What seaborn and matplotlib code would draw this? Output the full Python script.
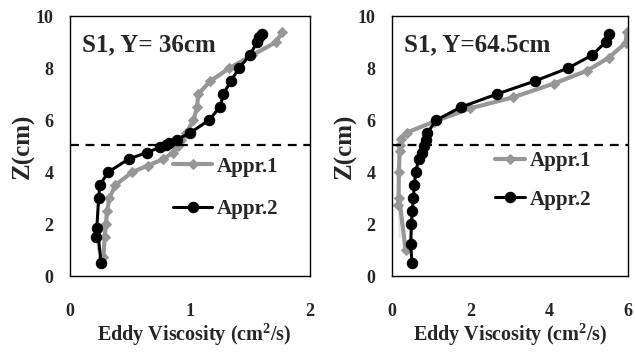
import matplotlib
matplotlib.use('Agg')
import matplotlib.pyplot as plt
import seaborn as sns

# left panel: S1, Y = 36cm
left_z1 = [0.5, 1.0, 1.5, 2.0, 2.5, 3.0, 3.5, 4.0, 4.25, 4.5, 4.75, 5.0, 5.25, 5.5,
           6.0, 6.5, 7.0, 7.5, 8.0, 8.5, 9.0, 9.4]
left_v1 = [0.28, 0.28, 0.29, 0.30, 0.31, 0.33, 0.38, 0.52, 0.65, 0.78, 0.86, 0.90, 0.93, 0.97,
           1.03, 1.06, 1.07, 1.17, 1.33, 1.52, 1.72, 1.77]
left_z2 = [0.5, 1.0, 1.5, 2.0, 2.5, 3.0, 3.5, 4.0, 4.5, 4.75, 4.95, 5.05, 5.1, 5.25, 5.5,
           6.0, 6.5, 7.0, 7.5, 8.0, 8.5, 9.0, 9.2, 9.3]
left_v2 = [0.26, 0.23, 0.22, 0.23, 0.23, 0.24, 0.25, 0.32, 0.49, 0.64, 0.75, 0.80, 0.83, 0.89, 1.00,
           1.16, 1.25, 1.28, 1.34, 1.41, 1.50, 1.56, 1.58, 1.60]

# right panel: S1, Y = 64.5cm
right_z1 = [1.0, 1.5, 2.0, 2.5, 3.0, 3.5, 4.0, 4.5, 4.8, 5.05, 5.27, 5.52,
            5.93, 6.45, 6.88, 7.4, 7.9, 8.4, 8.97, 9.39]
right_v1 = [0.35, 0.19, 0.17, 0.17, 0.17, 0.17, 0.18, 0.19, 0.20, 0.21, 0.23, 0.38,
            1.06, 1.99, 3.09, 4.11, 4.96, 5.51, 5.94, 5.97]
right_z2 = [0.5, 1.0, 1.5, 2.0, 2.5, 3.0, 3.5, 4.0, 4.5, 4.75, 5.0, 5.25, 5.5,
            6.0, 6.5, 7.0, 7.5, 8.0, 8.5, 9.0, 9.3]
right_v2 = [0.51, 0.48, 0.48, 0.50, 0.52, 0.55, 0.57, 0.61, 0.68, 0.77, 0.83, 0.86, 0.90,
            1.13, 1.76, 2.67, 3.63, 4.48, 5.09, 5.43, 5.51]

interface_z = 5.05
titles = ['S1, Y= 36cm', 'S1, Y=64.5cm']
x_limits = [(0, 2), (0, 6)]
x_ticks = [[0, 1, 2], [0, 2, 4, 6]]
y_ticks = [0, 2, 4, 6, 8, 10]
xlabel_pos = [0.52, 0.5]

sns.set_style('white')
plt.rcParams['font.family'] = ['Liberation Serif', 'DejaVu Serif']
plt.rcParams['font.weight'] = 'bold'
plt.rcParams['mathtext.fontset'] = 'custom'
plt.rcParams['mathtext.rm'] = 'Liberation Serif:bold'
plt.rcParams['mathtext.bf'] = 'Liberation Serif:bold'

fig = plt.figure(figsize=(6.35, 3.58), dpi=100)
ax_left = fig.add_axes([0.110, 0.229, 0.378, 0.726])
ax_right = fig.add_axes([0.617, 0.229, 0.372, 0.726])

panels = [
    (ax_left, left_v1, left_z1, left_v2, left_z2),
    (ax_right, right_v1, right_z1, right_v2, right_z2),
]

gray = '#979797'
for i, (ax, v1, z1, v2, z2) in enumerate(panels):
    sns.lineplot(x=v1, y=z1, sort=False, ax=ax, color=gray, lw=3.0,
                 marker='D', markersize=5, markeredgecolor=gray, label='Appr.1')
    sns.lineplot(x=v2, y=z2, sort=False, ax=ax, color='black', lw=2.2,
                 marker='o', markersize=7.5, markeredgecolor='black', label='Appr.2')
    ax.axhline(interface_z, color='black', ls='--', lw=1.6, dashes=(4, 3))

    ax.set_xlim(*x_limits[i])
    ax.set_ylim(0, 10)
    ax.set_xticks(x_ticks[i])
    ax.set_yticks(y_ticks)
    ax.tick_params(direction='out', length=3.6, width=1, color='black', labelsize=13)
    ax.tick_params(axis='x', pad=16)
    ax.tick_params(axis='y', pad=8)
    for lab in ax.get_xticklabels() + ax.get_yticklabels():
        lab.set_fontweight('bold')
    for sp in ax.spines.values():
        sp.set_color('black')
        sp.set_linewidth(1)

    ax.set_xlabel('Eddy Viscosity (cm$^\\mathbf{2}$/s)', fontsize=14.5, fontweight='bold')
    ax.xaxis.set_label_coords(xlabel_pos[i], -0.172)
    ax.set_ylabel('Z(cm)', fontsize=18, fontweight='bold', labelpad=1)
    ax.text(0.05, 0.935, titles[i], transform=ax.transAxes, fontsize=18,
            fontweight='bold', va='top', ha='left')

ax_left.legend(loc='upper left', bbox_to_anchor=(0.429, 0.459), frameon=False,
               borderpad=0, borderaxespad=0, handlelength=1.9, handletextpad=0.2,
               labelspacing=1.07, prop={'weight': 'bold', 'size': 15})
ax_right.legend(loc='upper left', bbox_to_anchor=(0.438, 0.48), frameon=False,
                borderpad=0, borderaxespad=0, handlelength=1.45, handletextpad=0.2,
                labelspacing=0.88, prop={'weight': 'bold', 'size': 15})

fig.savefig('out.png', dpi=100)
